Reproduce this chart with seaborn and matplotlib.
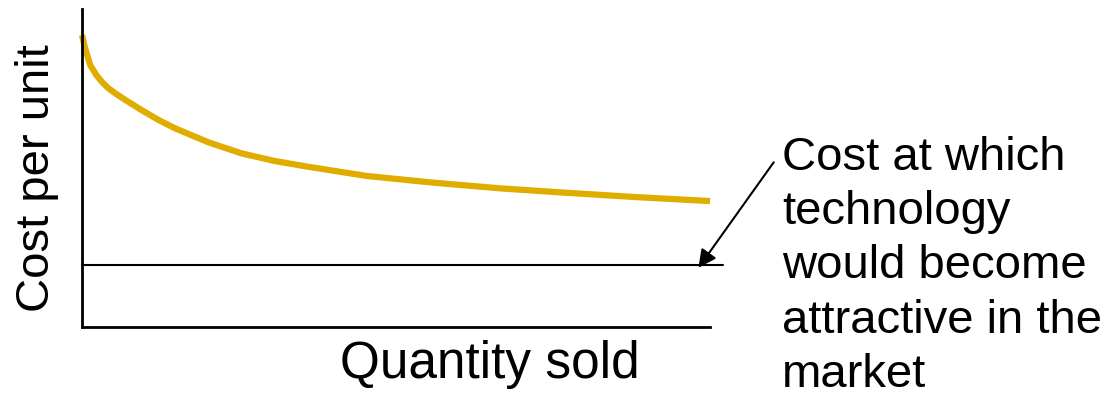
import matplotlib
matplotlib.use("Agg")
import matplotlib.pyplot as plt
import seaborn as sns
import pandas as pd

# Valeurs (échelle 0-100 sur chaque axe)
quantity = [0, 0.5, 1.3, 2.3, 3.2, 4.2, 5.5, 6.9, 9.5, 12.2, 14.8, 20.1, 25.4, 30.7,
            36.0, 45.3, 55.9, 66.6, 77.2, 87.8, 100]
cost = [91.8, 87.6, 82.4, 79.2, 77.0, 75.1, 73.2, 71.4, 68.2, 65.1, 62.5, 58.1, 54.6, 52.2,
        50.4, 47.5, 45.4, 43.6, 42.2, 40.9, 39.6]
target_cost = 19.5

label_x = "Quantity sold"
label_y = "Cost per unit"
note = "Cost at which\ntechnology\nwould become\nattractive in the\nmarket"

df = pd.DataFrame({"quantity": quantity, "cost": cost})

sns.set_style("white")
plt.rcParams['font.family'] = ['Liberation Sans', 'DejaVu Sans']
plt.rcParams['text.color'] = 'black'

fig = plt.figure(figsize=(11.11, 3.98), dpi=100)
ax = fig.add_axes([82 / 1111, 1 - 327 / 398, 628 / 1111, 318 / 398])

sns.lineplot(data=df, x="quantity", y="cost", ax=ax, color="#E0AC00", linewidth=4.5,
             solid_capstyle="butt", solid_joinstyle="round", clip_on=False)
ax.axhline(target_cost, xmin=0, xmax=1.02, color="black", linewidth=1.5, clip_on=False)

ax.set_xlim(0, 100)
ax.set_ylim(0, 100)
ax.set_xticks([])
ax.set_yticks([])
ax.set_xlabel("")
ax.set_ylabel("")
for side in ["top", "right"]:
    ax.spines[side].set_visible(False)
for side in ["left", "bottom"]:
    ax.spines[side].set_color("black")
    ax.spines[side].set_linewidth(2)

# flèche vers la ligne de coût cible
ax.annotate("", xy=(97.9, 17.9), xytext=(110.4, 52.5), annotation_clip=False,
            arrowprops=dict(arrowstyle="-|>", color="black", lw=1.5, mutation_scale=27))

fig.text(782 / 1111, 1 - 136 / 398, note, fontsize=34, ha="left", va="top", linespacing=1.3)
fig.text(490 / 1111, 1 - 378 / 398, label_x, fontsize=37, ha="center", va="baseline")
fig.text(37 / 1111, 1 - 178 / 398, label_y, fontsize=34, ha="center", va="center", rotation=90)

fig.savefig("out.png", dpi=100)
